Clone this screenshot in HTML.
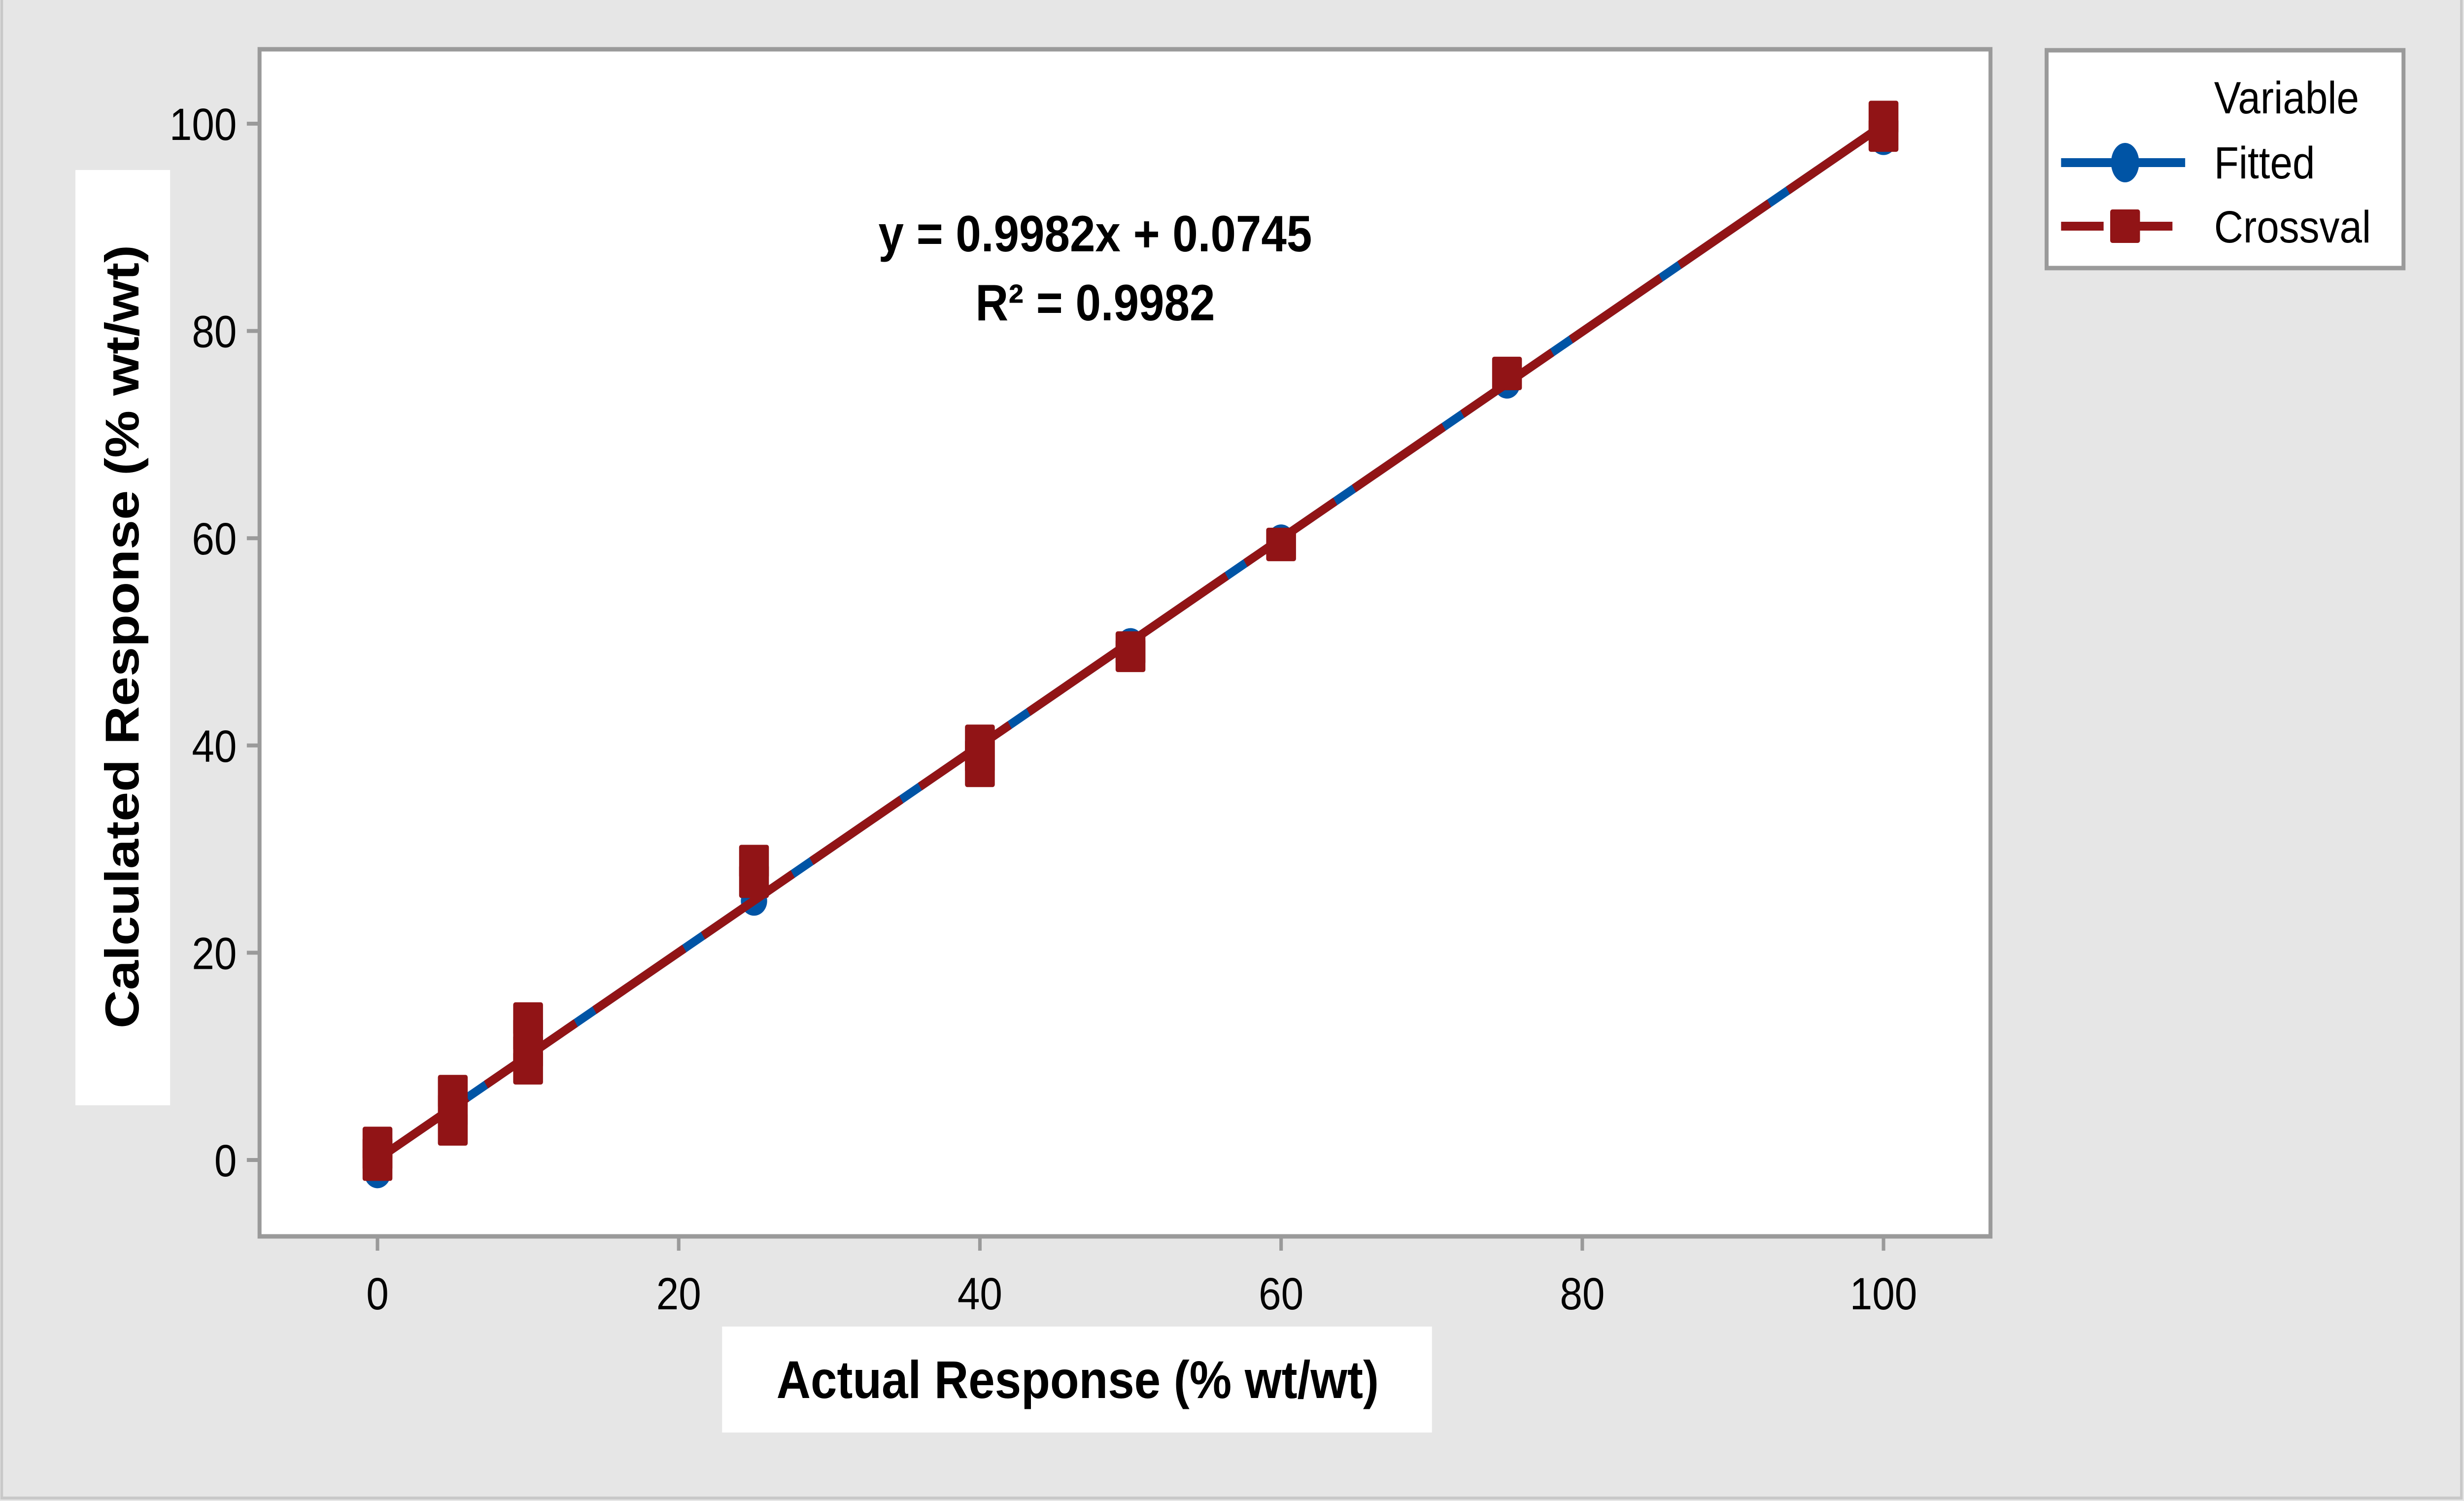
<!DOCTYPE html>
<html><head><meta charset="utf-8"><style>
html,body{margin:0;padding:0;background:#e6e6e6;width:100%;height:100%;overflow:hidden;}
svg{display:block;width:100vw;height:100vh;}
text{font-family:"Liberation Sans",sans-serif;}
</style></head><body>
<svg id="chart" viewBox="0 0 5620 3046" preserveAspectRatio="none">
<rect x="0" y="0" width="5620" height="3046" fill="#e6e6e6"/>
<rect x="4" y="-10" width="5610" height="3050" fill="none" stroke="#c8c8c8" stroke-width="6"/>
<rect x="592" y="100" width="3948" height="2409" fill="#fff" stroke="#9a9a9a" stroke-width="9"/>
<g id="axes"></g>
<g id="series"></g>
<rect x="172" y="345" width="216" height="1898" fill="#fff"/>
<text x="0" y="0" transform="translate(316,1292) rotate(-90)" text-anchor="middle" font-size="108" font-weight="bold">Calculated Response (% wt/wt)</text>
<rect x="1647" y="2692" width="1619" height="215" fill="#fff"/>
<text x="2458" y="2837" text-anchor="middle" font-size="108" font-weight="bold">Actual Response (% wt/wt)</text>
<text x="2498" y="510" text-anchor="middle" font-size="104" font-weight="bold">y = 0.9982x + 0.0745</text>
<text x="2498" y="650" text-anchor="middle" font-size="104" font-weight="bold">R² = 0.9982</text>
<g>
<rect x="4668" y="102" width="814" height="442" fill="#fff" stroke="#9a9a9a" stroke-width="9"/>
<text x="5050" y="230" font-size="92">Variable</text>
<line x1="4701" y1="330" x2="4984" y2="330" stroke="#0054a5" stroke-width="18"/>
<ellipse cx="4847" cy="330" rx="32" ry="40" fill="#0054a5"/>
<text x="5050" y="362" font-size="92">Fitted</text>
<line x1="4701" y1="459" x2="4798" y2="459" stroke="#911416" stroke-width="18"/>
<line x1="4880" y1="459" x2="4955" y2="459" stroke="#911416" stroke-width="18"/>
<rect x="4813" y="425" width="68" height="68" rx="5" fill="#911416"/>
<text x="5050" y="492" font-size="92">Crossval</text>
</g>
</svg>
<script>
const xTicks = [0, 20, 40, 60, 80, 100];
const yTicks = [0, 20, 40, 60, 80, 100];
const fittedX = [0, 5, 10, 25, 40, 50, 60, 75, 100];
const fittedY = [-1.3, 4.9, 9.9, 25.0, 39.9, 49.9, 59.9, 74.9, 98.4];
const crossX = [0, 0, 0, 5, 5, 5, 10, 10, 10, 10, 25, 25, 40, 40, 40, 50, 50, 60, 75, 100, 100];
const crossY = [-0.4, 0.6, 1.6, 3.0, 4.8, 6.6, 8.9, 10.5, 12.1, 13.6, 26.9, 28.8, 37.6, 39.0, 40.4, 48.7, 49.4, 59.4, 75.9, 98.9, 100.6];
const fitSlope = [0.9982];
const fitIntercept = [0.0745];
const lineRange = [0, 100];

const NS = 'http://www.w3.org/2000/svg';
function sx(v){ return 861 + v * 34.35; }
function sy(v){ return 2354 - v * 21.03; }
function mk(tag, attrs, parent){
  const e = document.createElementNS(NS, tag);
  for (const k in attrs) e.setAttribute(k, attrs[k]);
  parent.appendChild(e);
  return e;
}
const axes = document.getElementById('axes');
const series = document.getElementById('series');

xTicks.forEach(function(t){
  const l = mk('line', {x1: sx(t), x2: sx(t), y1: 2509, y2: 2538, stroke: '#9a9a9a', 'stroke-width': 8}, axes);
  
  
  const tx = mk('text', {x: sx(t), y: 2657, 'text-anchor': 'middle', 'font-size': 92}, axes);
  tx.textContent = t;
  
  
});
yTicks.forEach(function(t){
  const l = mk('line', {x1: 563, x2: 592, y1: sy(t), y2: sy(t), stroke: '#9a9a9a', 'stroke-width': 8}, axes);
  
  
  const tx = mk('text', {x: 540, y: sy(t) + 33, 'text-anchor': 'end', 'font-size': 92}, axes);
  tx.textContent = t;
  
  
});

const x0 = lineRange[0], x1 = lineRange[1];
const y0 = fitSlope[0] * x0 + fitIntercept[0], y1 = fitSlope[0] * x1 + fitIntercept[0];
const blue = mk('line', {x1: sx(x0), y1: sy(y0), x2: sx(x1), y2: sy(y1), stroke: '#0054a5', 'stroke-width': 18}, series);


fittedX.forEach(function(x, i){
  const c = mk('ellipse', {cx: sx(x), cy: sy(fittedY[i]), rx: 30, ry: 30, fill: '#0054a5'}, series);
  
  
});
const red = mk('line', {x1: sx(x0), y1: sy(y0), x2: sx(x1), y2: sy(y1), stroke: '#911416', 'stroke-width': 18, 'stroke-dasharray': '240 50'}, series);


crossX.forEach(function(x, i){
  const r = mk('rect', {x: sx(x) - 34, y: sy(crossY[i]) - 34, width: 68, height: 68, rx: 5, fill: '#911416'}, series);
  
  
});
</script>
</body></html>
